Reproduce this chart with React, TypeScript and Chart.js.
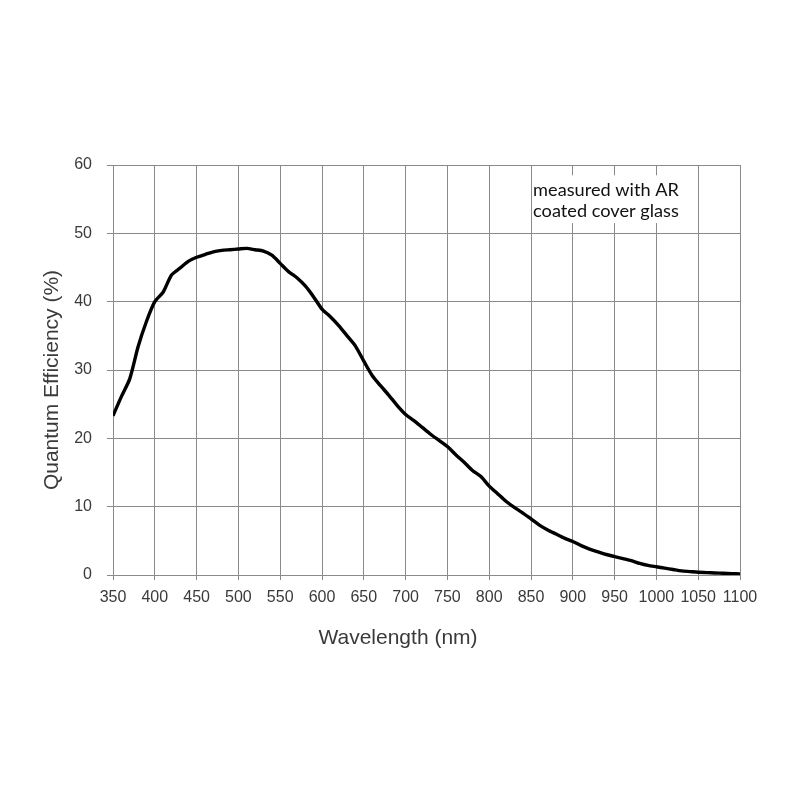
import React, { useEffect, useRef } from "react";
import { Chart, registerables } from "chart.js";

Chart.register(...registerables);

const wavelengths: number[] = [
  350, 360, 370, 380, 390, 400, 410, 420, 430, 440, 450, 460, 470, 480, 490,
  500, 510, 520, 530, 540, 550, 560, 570, 580, 590, 600, 610, 620, 630, 640,
  650, 660, 670, 680, 690, 700, 710, 720, 730, 740, 750, 760, 770, 780, 790,
  800, 810, 820, 830, 840, 850, 860, 870, 880, 890, 900, 910, 920, 930, 940,
  950, 960, 970, 980, 990, 1000, 1010, 1020, 1030, 1040, 1050, 1060, 1070,
  1080, 1090, 1100,
];

const qeValues: number[] = [
  23.3, 26.1, 28.7, 33.4, 37.1, 40.0, 41.4, 43.9, 44.9, 45.9, 46.5, 46.9, 47.3,
  47.5, 47.6, 47.7, 47.8, 47.6, 47.4, 46.8, 45.6, 44.4, 43.5, 42.3, 40.7, 38.9,
  37.8, 36.5, 35.0, 33.5, 31.3, 29.2, 27.7, 26.3, 24.8, 23.5, 22.6, 21.6, 20.6,
  19.7, 18.8, 17.6, 16.5, 15.3, 14.4, 13.0, 11.9, 10.8, 9.9, 9.1, 8.2, 7.3, 6.6,
  6.0, 5.4, 4.9, 4.3, 3.8, 3.4, 3.0, 2.7, 2.4, 2.1, 1.7, 1.4, 1.2, 1.0, 0.8,
  0.6, 0.5, 0.4, 0.35, 0.3, 0.25, 0.2, 0.15,
];

const xTitle = "Wavelength (nm)";
const yTitle = "Quantum Efficiency (%)";
const noteLines: string[] = ["measured with AR", "coated cover glass"];

const GRID = "#8a8a8a";
const TEXT = "#3a3a3a";
const SANS = "Liberation Sans, Arial, sans-serif";

const notePlugin = {
  id: "notePlugin",
  afterDatasetsDraw(chart: any) {
    const { ctx, scales, chartArea } = chart;
    const xs = scales.x;
    const ys = scales.y;
    const left = xs.getPixelForValue(852);
    const right = xs.getPixelForValue(1048);
    const top = ys.getPixelForValue(58.5);
    const bottom = ys.getPixelForValue(51.5);
    ctx.save();
    ctx.fillStyle = "#ffffff";
    ctx.fillRect(left, top, right - left, bottom - top);
    ctx.font = "100px Lato";
    const w = ctx.measureText(noteLines[0]).width;
    const size = (100 * 146) / w;
    ctx.font = `${size}px Lato`;
    ctx.fillStyle = "#111111";
    ctx.textBaseline = "alphabetic";
    ctx.textAlign = "left";
    const tx = xs.getPixelForValue(852.5);
    ctx.fillText(noteLines[0], tx, ys.getPixelForValue(55.5));
    ctx.fillText(noteLines[1], tx, ys.getPixelForValue(52.35));

    // axis titles
    ctx.fillStyle = TEXT;
    ctx.font = `21px ${SANS}`;
    ctx.textAlign = "center";
    ctx.textBaseline = "middle";
    ctx.fillText(xTitle, chartArea.left + 285, chartArea.bottom + 63);
    ctx.translate(chartArea.left - 61, chartArea.top + 215);
    ctx.rotate(-Math.PI / 2);
    ctx.fillText(yTitle, 0, 0);
    ctx.restore();
  },
};

export default function App() {
  const ref = useRef<HTMLCanvasElement | null>(null);
  useEffect(() => {
    if (!ref.current) return;
    const chart = new Chart(ref.current, {
      type: "line",
      data: {
        datasets: [
          {
            data: wavelengths.map((x, i) => ({ x, y: qeValues[i] })),
            borderColor: "#000000",
            borderWidth: 3.4,
            pointRadius: 0,
            tension: 0.25,
            fill: false,
          },
        ],
      },
      options: {
        animation: false,
        responsive: false,
        devicePixelRatio: 1,
        layout: { padding: { left: 0, top: 165, right: 60, bottom: 125 } },
        plugins: { legend: { display: false }, tooltip: { enabled: false } },
        scales: {
          x: {
            type: "linear",
            min: 350,
            max: 1100,
            afterFit: (s: any) => {
              s.height = 100;
            },
            ticks: {
              stepSize: 50,
              autoSkip: false,
              maxRotation: 0,
              padding: 8,
              color: TEXT,
              callback: (v: any) => String(v),
              font: { family: SANS, size: 16 },
            },
            grid: { color: GRID, lineWidth: 1, tickLength: 5, tickColor: GRID },
            border: { color: GRID, width: 1 },
            title: { display: false },
          },
          y: {
            min: 0,
            max: 60,
            afterFit: (s: any) => {
              s.width = 113;
            },
            ticks: {
              stepSize: 10,
              padding: 15,
              color: TEXT,
              callback: (v: any) => String(v),
              font: { family: SANS, size: 16 },
            },
            grid: { color: GRID, lineWidth: 1, tickLength: 6, tickColor: GRID },
            border: { color: GRID, width: 1 },
            title: { display: false },
          },
        },
      },
      plugins: [notePlugin],
    });
    return () => chart.destroy();
  }, []);
  return (
    <div style={{ position: "absolute", left: 0, top: 0, width: 800, height: 800, background: "#fff" }}>
      <canvas ref={ref} width={800} height={800} />
    </div>
  );
}
